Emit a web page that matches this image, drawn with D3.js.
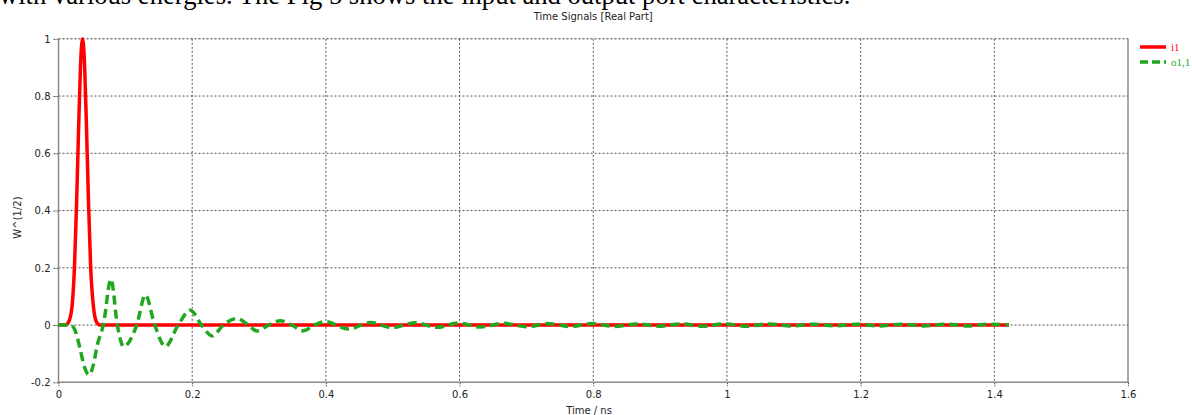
<!DOCTYPE html>
<html>
<head>
<meta charset="utf-8">
<script src="https://cdn.jsdelivr.net/npm/d3@7"></script>
<style>
  body { margin: 0; background: #fff; }
  svg { display: block; }
  .tick text { font-family: "DejaVu Sans", sans-serif; font-size: 10px; fill: #222; }
</style>
</head>
<body>
<svg id="chart" width="1192" height="415"></svg>
<script>
// values
var xTicks = [0, 0.2, 0.4, 0.6, 0.8, 1, 1.2, 1.4, 1.6];
var yTicks = [-0.2, 0, 0.2, 0.4, 0.6, 0.8, 1];

// i1 : input gaussian pulse
var inputTime = [0, 0.010, 0.015, 0.020, 0.024, 0.027, 0.030, 0.033, 0.036, 0.039, 0.042, 0.045, 0.048, 0.052, 0.057, 0.062, 1.422];
var inputVal  = [0, 0, 0.01, 0.06, 0.21, 0.42, 0.68, 0.91, 1.0, 0.91, 0.68, 0.42, 0.21, 0.07, 0.01, 0, 0];

// o1,1 : reflected signal
var outputTime = [0, 0.018, 0.025, 0.032, 0.038, 0.0455, 0.052, 0.058, 0.067, 0.0786, 0.088, 0.0975, 0.117, 0.130, 0.144, 0.160,
  0.179, 0.197, 0.214, 0.230, 0.2465, 0.267, 0.284, 0.297, 0.314, 0.332, 0.349, 0.366, 0.383, 0.399, 0.434, 0.4665,
  0.499, 0.534, 0.566, 0.598, 0.631, 0.666, 0.700, 0.732, 0.766, 0.799, 0.832, 0.865, 0.898, 0.931, 0.964, 0.997,
  1.030, 1.063, 1.096, 1.129, 1.162, 1.195, 1.228, 1.261, 1.294, 1.327, 1.360, 1.393, 1.422];
var outputVal = [0, 0, -0.02, -0.08, -0.14, -0.174, -0.14, -0.07, 0, 0.16, 0, -0.075, 0, 0.105, 0, -0.075,
  0, 0.052, 0, -0.038, 0, 0.023, 0, -0.021, 0, 0.015, 0, -0.020, 0, 0.012, -0.014, 0.009,
  -0.009, 0.008, -0.008, 0.007, -0.007, 0.006, -0.006, 0.005, -0.005, 0.005, -0.005, 0.004, -0.004, 0.004, -0.004, 0.004,
  -0.004, 0.004, -0.003, 0.003, -0.003, 0.003, -0.003, 0.003, -0.003, 0.003, -0.003, 0.003, 0];

var seriesNames = ["i1", "o1,1"];
var seriesColors = ["#ff0000", "#1fa81f"];

var svg = d3.select("#chart");

var x = d3.scaleLinear().domain([0, 1.6]).range([58.5, 1128]);
var y = d3.scaleLinear().domain([-0.2, 1]).range([382.3, 38.8]);

// clipped paragraph text above the chart
svg.append("text")
    .attr("x", -1)
    .attr("y", 4)
    .attr("font-family", "Liberation Serif, serif")
    .attr("font-size", "26.6px")
    .attr("fill", "#000")
    .text("with various energies. The Fig 5 shows the input and output port characteristics.");

svg.append("text")
    .attr("x", (x(0) + x(1.6)) / 2)
    .attr("y", 20)
    .attr("text-anchor", "middle")
    .attr("font-family", "DejaVu Sans, sans-serif")
    .attr("font-size", "10px")
    .attr("fill", "#222")
    .text("Time Signals [Real Part]");

// grid
var grid = svg.append("g").attr("class", "grid");
grid.selectAll(".vgrid")
    .data(xTicks.filter(d => d > 0 && d < 1.6))
    .enter().append("line")
    .attr("x1", d => x(d)).attr("x2", d => x(d))
    .attr("y1", y(1)).attr("y2", y(-0.2))
    .attr("stroke", "#555")
    .attr("stroke-width", 1)
    .attr("stroke-dasharray", "2,2");
grid.selectAll(".hgrid")
    .data(yTicks.filter(d => d > -0.2))
    .enter().append("line")
    .attr("x1", x(0)).attr("x2", x(1.6))
    .attr("y1", d => y(d)).attr("y2", d => y(d))
    .attr("stroke", d => d == 1 ? "#333" : "#555")
    .attr("stroke-width", 1)
    .attr("stroke-dasharray", "2,2");

// axes
var fmt = d => String(+d.toFixed(1));
var xAxis = svg.append("g")
    .attr("transform", "translate(0," + y(-0.2) + ")")
    .call(d3.axisBottom(x).tickValues(xTicks).tickSize(4).tickPadding(5).tickFormat(fmt));
var yAxis = svg.append("g")
    .attr("transform", "translate(" + x(0) + ",0)")
    .call(d3.axisLeft(y).tickValues(yTicks).tickSize(5).tickPadding(3).tickFormat(fmt));
xAxis.select(".domain").remove();
yAxis.select(".domain").remove();
xAxis.selectAll(".tick line").attr("stroke", "#444").attr("stroke-dasharray", "2,1");
yAxis.selectAll(".tick line").attr("stroke", "#444").attr("stroke-dasharray", "2,1");

svg.append("line")
    .attr("x1", x(0)).attr("x2", x(0)).attr("y1", y(1)).attr("y2", y(-0.2))
    .attr("stroke", "#8a8a8a").attr("stroke-width", 1.5);
svg.append("line")
    .attr("x1", x(0)).attr("x2", x(1.6)).attr("y1", y(-0.2)).attr("y2", y(-0.2))
    .attr("stroke", "#8a8a8a").attr("stroke-width", 1.5);
svg.append("line")
    .attr("x1", x(1.6)).attr("x2", x(1.6)).attr("y1", y(1)).attr("y2", y(-0.2))
    .attr("stroke", "#8a8a8a").attr("stroke-width", 1.5);

svg.append("text")
    .attr("transform", "translate(21," + ((y(1) + y(-0.2)) / 2 + 7) + ") rotate(-90)")
    .attr("text-anchor", "middle")
    .attr("font-family", "DejaVu Sans, sans-serif")
    .attr("font-size", "10px")
    .attr("fill", "#222")
    .text("W^(1/2)");

svg.append("text")
    .attr("x", 589)
    .attr("y", 414)
    .attr("text-anchor", "middle")
    .attr("font-family", "DejaVu Sans, sans-serif")
    .attr("font-size", "10px")
    .attr("fill", "#222")
    .text("Time / ns");

// series
var line = d3.line()
    .x(d => x(d[0]))
    .y(d => y(d[1]))
    .curve(d3.curveMonotoneX);

var inputData = inputTime.map((t, i) => [t, inputVal[i]]);
var outputData = outputTime.map((t, i) => [t, outputVal[i]]);

svg.append("path")
    .datum(inputData)
    .attr("d", line)
    .attr("fill", "none")
    .attr("stroke", seriesColors[0])
    .attr("stroke-width", 3.5);

svg.append("path")
    .datum(outputData)
    .attr("d", line)
    .attr("fill", "none")
    .attr("stroke", seriesColors[1])
    .attr("stroke-width", 3.5)
    .attr("stroke-dasharray", "9,5");

// legend
var legend = svg.append("g").selectAll("g")
    .data(seriesNames)
    .enter().append("g")
    .attr("transform", (d, i) => "translate(1140," + (47 + i * 15) + ")");
legend.append("line")
    .attr("x1", 0).attr("x2", 26)
    .attr("stroke", (d, i) => seriesColors[i])
    .attr("stroke-width", 3.5)
    .attr("stroke-dasharray", (d, i) => i == 1 ? "8,4" : null);
legend.append("text")
    .attr("x", 31)
    .attr("y", 3.5)
    .attr("font-family", "Liberation Serif, serif")
    .attr("font-size", "11px")
    .attr("fill", (d, i) => seriesColors[i])
    .text(d => d);
</script>
</body>
</html>
